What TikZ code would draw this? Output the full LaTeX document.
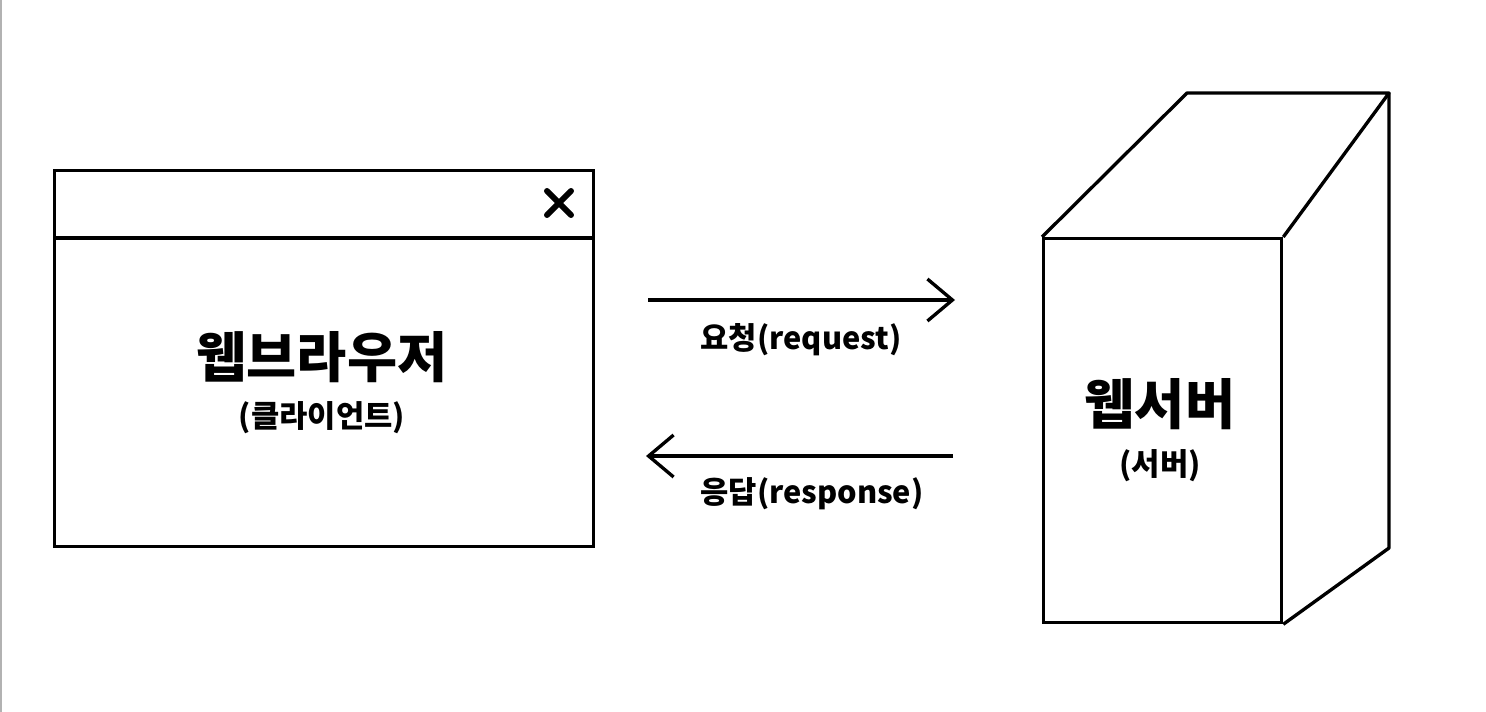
\documentclass[tikz,border=0pt]{standalone}
\usepackage{fontspec}
\newfontfamily\kr{Noto Sans CJK KR}
\usetikzlibrary{arrows.meta}
\usetikzlibrary{calc}

\begin{document}
\begin{tikzpicture}[x=0.02cm, y=-0.02cm, line width=1.9pt,
  box/.style={draw, inner sep=0, anchor=north west},
  biglabel/.style={font=\kr\bfseries\fontsize{31}{33}\selectfont},
  smalllabel/.style={font=\kr\bfseries\fontsize{17.5}{19}\selectfont},
  msglabel/.style={font=\kr\bfseries\fontsize{17.5}{19}\selectfont},
  msg/.style={-{Straight Barb[length=0.5cm, width=0.84cm]}}]
\useasboundingbox (0,0) rectangle (1486,712);
\draw[gray!60, line width=1.2pt] (1,0) -- (1,712);
% web browser window
\node[box, minimum width=10.78cm, minimum height=7.52cm] (browser) at (53,169) {};
\coordinate (barL) at (53,238);
\coordinate (barR) at (592,238);
\draw (barL) -- (barR);
\draw[line width=3.4pt, line cap=round] (547,191) -- (571,215) (571,191) -- (547,215);
\node[biglabel] (bname) at (322,357) {웹브라우저};
\node[smalllabel] (bsub) at (322,418) {(클라이언트)};
% web server box
\node[box, minimum width=4.76cm, minimum height=7.68cm] (server) at (1042,237) {};
\coordinate (topL) at (1187,93);
\coordinate (topR) at (1389,93);
\coordinate (botR) at (1389,548);
\draw[line join=round] (server.north west) -- (topL) -- (topR) -- (server.north east);
\draw[line join=round] (topR) -- (botR) -- (server.south east);
\node[biglabel] (sname) at (1160,404) {웹서버};
\node[smalllabel] (ssub) at (1160,466) {(서버)};
% request / response
\coordinate (reqA) at (648,300);
\coordinate (reqB) at (955,300);
\draw[msg] (reqA) -- (reqB);
\node[msglabel] (req) at (801,340) {요청(request)};
\coordinate (resA) at (953,456);
\coordinate (resB) at (646,456);
\draw[msg] (resA) -- (resB);
\node[msglabel] (res) at (812,494) {응답(response)};
\end{tikzpicture}
\end{document}
